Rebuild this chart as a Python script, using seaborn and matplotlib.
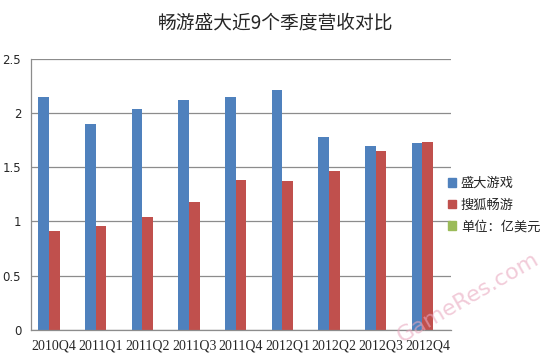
import numpy as np
import pandas as pd
import seaborn as sns
import matplotlib.pyplot as plt

quarters = ['2010Q4', '2011Q1', '2011Q2', '2011Q3', '2011Q4',
            '2012Q1', '2012Q2', '2012Q3', '2012Q4']
shanda = [2.15, 1.90, 2.04, 2.12, 2.15, 2.21, 1.78, 1.70, 1.72]
changyou = [0.91, 0.96, 1.04, 1.18, 1.38, 1.37, 1.47, 1.65, 1.73]
unit = [0, 0, 0, 0, 0, 0, 0, 0, 0]
series_names = ['盛大游戏', '搜狐畅游', '单位：亿美元']
colors = ['#4F81BD', '#C0504D', '#9BBB59']

df = pd.DataFrame({
    'quarter': quarters * 3,
    'value': shanda + changyou + unit,
    'series': [series_names[0]] * 9 + [series_names[1]] * 9 + [series_names[2]] * 9,
})

sns.set_style('white')
plt.rcParams['font.family'] = ['Noto Sans CJK SC', 'DejaVu Sans']

fig = plt.figure(figsize=(5.52, 3.57), dpi=100)
ax = fig.add_axes([0.056, 0.076, 0.761, 0.759])

sns.barplot(data=df, x='quarter', y='value', hue='series', hue_order=series_names,
            palette=colors, width=0.68, linewidth=0, saturation=1, ax=ax, legend=False)

ax.set_ylim(0, 2.5)
ax.set_xlim(-0.5, 8.5)
ax.set_yticks([0, 0.5, 1, 1.5, 2, 2.5])
ax.set_yticklabels(['0', '0.5', '1', '1.5', '2', '2.5'], family='DejaVu Sans', fontsize=8.5)
ax.yaxis.grid(True, color='#8c8c8c', linewidth=0.9)
ax.set_axisbelow(True)
ax.set_xlabel('')
ax.set_ylabel('')

ax.set_xticks(range(9))
ax.set_xticklabels(quarters, family='Liberation Serif', fontsize=10)
ax.set_xticks(np.arange(-0.5, 9, 1), minor=True)
ax.tick_params(axis='x', which='major', length=0, pad=7)
ax.tick_params(axis='x', which='minor', length=5, color='#8c8c8c', direction='out')
ax.tick_params(axis='y', length=4, color='#8c8c8c', direction='out', pad=3)

for s in ['top', 'right']:
    ax.spines[s].set_visible(False)
for s in ['left', 'bottom']:
    ax.spines[s].set_color('#8c8c8c')
    ax.spines[s].set_linewidth(0.9)

handles = [plt.Rectangle((0, 0), 1, 1, color=c) for c in colors]
ax.legend(handles, series_names, loc='center left', bbox_to_anchor=(0.992, 0.46),
          frameon=False, fontsize=9.5, handlelength=0.6, handleheight=0.6,
          handletextpad=0.4, labelspacing=0.65, borderpad=0, borderaxespad=0)

fig.text(0.5, 0.935, '畅游盛大近9个季度营收对比', ha='center', va='center', fontsize=13.5)

fig.text(0.848, 0.165, 'GameRes.com', ha='center', va='center', rotation=30,
         fontsize=16, color='#e9a8bf', alpha=0.6, family='DejaVu Sans')

fig.savefig('out.png', dpi=100)
